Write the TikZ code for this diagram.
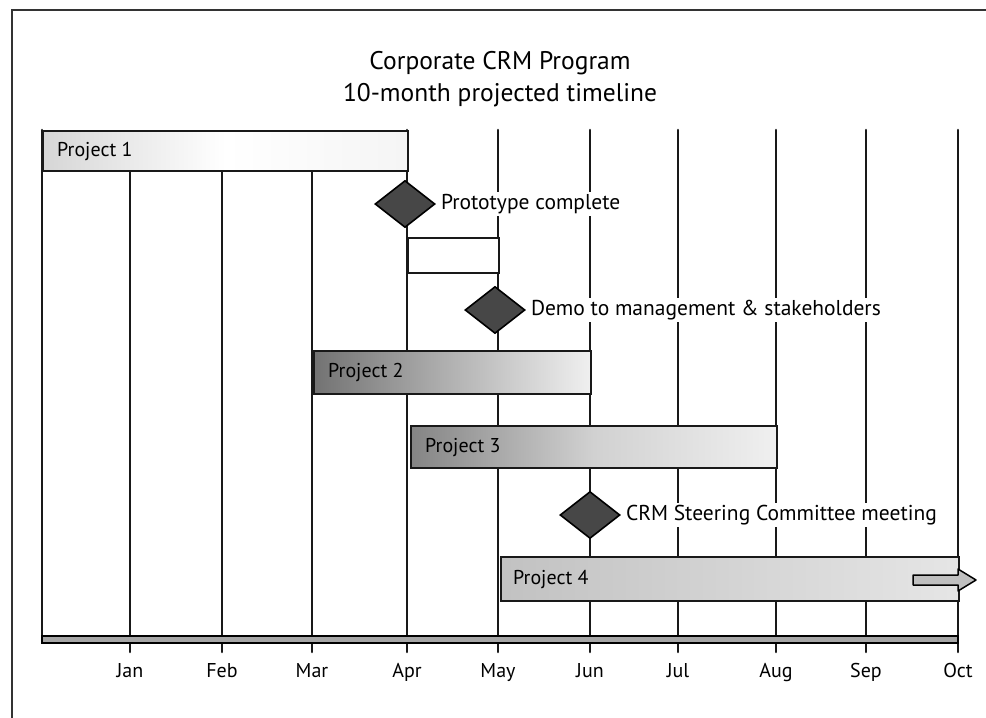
\documentclass[tikz,border=0pt]{standalone}
\usepackage{fontspec}
\setmainfont{PT Sans}
\usetikzlibrary{shapes.geometric}
\begin{document}
\begin{tikzpicture}[x=1pt,y=-1pt,
  gridline/.style={line width=2.6pt, black!90, line cap=round},
  bar/.style={draw=black!90, line width=2.2pt, inner sep=0pt, anchor=north west},
  bartext/.style={anchor=west, inner sep=1pt, font=\fontsize{20}{22}\selectfont},
  milestone/.style={diamond, draw=black, line width=1.6pt, fill=black!72, inner sep=0pt, minimum width=60pt, minimum height=47pt},
  mstext/.style={anchor=west, fill=white, inner sep=2pt, font=\fontsize{21.5}{24}\selectfont},
  month/.style={font=\fontsize{20}{22}\selectfont, anchor=base},
  titletext/.style={align=center, font=\fontsize{25.5}{32}\selectfont}]
\useasboundingbox (0,0) rectangle (986,718);
% frame
\draw[line width=2pt, black!80] (12,718) -- (12,10) -- (986,10);
% title
\node[titletext] (title) at (500,79) {Corporate CRM Program\\10-month projected timeline};
% grid lines
\draw[gridline] (42,130) -- (42,640);
\foreach \x/\t in {130/170,222/170,312/170,407/130,498/130,590/130,678/130,776/130,866/130,958/130}
  \draw[gridline] (\x,\t) -- (\x,652);
% axis
\draw[line width=2pt, fill=black!35] (42,636) rectangle (958,643);
% month labels
\foreach \x/\m in {130/Jan,222/Feb,312/Mar,407/Apr,498/May,590/Jun,678/Jul,776/Aug,866/Sep,958/Oct}
  \node[month] (m\m) at (\x,677) {\m};
% bars
\node[bar, minimum width=365pt, minimum height=40pt, left color=black!16, right color=white!96!black, middle color=white] (p1) at (42,130) {};
\node[bartext] (p1t) at ([xshift=14pt]p1.west) {Project 1};
\node[bar, minimum width=91pt, minimum height=35pt, fill=white] (gap) at (407,237) {};
\node[bar, minimum width=277pt, minimum height=43pt, left color=black!55, right color=white!94!black, middle color=black!30] (p2) at (313,350) {};
\node[bartext] (p2t) at ([xshift=14pt]p2.west) {Project 2};
\node[bar, minimum width=366pt, minimum height=42pt, left color=black!48, right color=white!94!black, middle color=black!18] (p3) at (410,425) {};
\node[bartext] (p3t) at ([xshift=14pt]p3.west) {Project 3};
\node[bar, minimum width=458pt, minimum height=44pt, left color=black!24, right color=black!10] (p4) at (500,556) {};
\node[bartext] (p4t) at ([xshift=12pt]p4.west) {Project 4};
% arrow
\draw[line width=1.5pt, fill=black!25, line join=round] (913,575) -- (958,575) -- (958,569) -- (976,580) -- (958,591) -- (958,585) -- (913,585) -- cycle;
% milestones
\node[milestone] (ms1) at (405,204) {};
\node[mstext] (ms1t) at ([xshift=3pt]ms1.east) {Prototype complete};
\node[milestone] (ms2) at (495,310) {};
\node[mstext] (ms2t) at ([xshift=3pt]ms2.east) {Demo to management \& stakeholders};
\node[milestone] (ms3) at (590,515) {};
\node[mstext] (ms3t) at ([xshift=3pt]ms3.east) {CRM Steering Committee meeting};
\end{tikzpicture}
\end{document}
